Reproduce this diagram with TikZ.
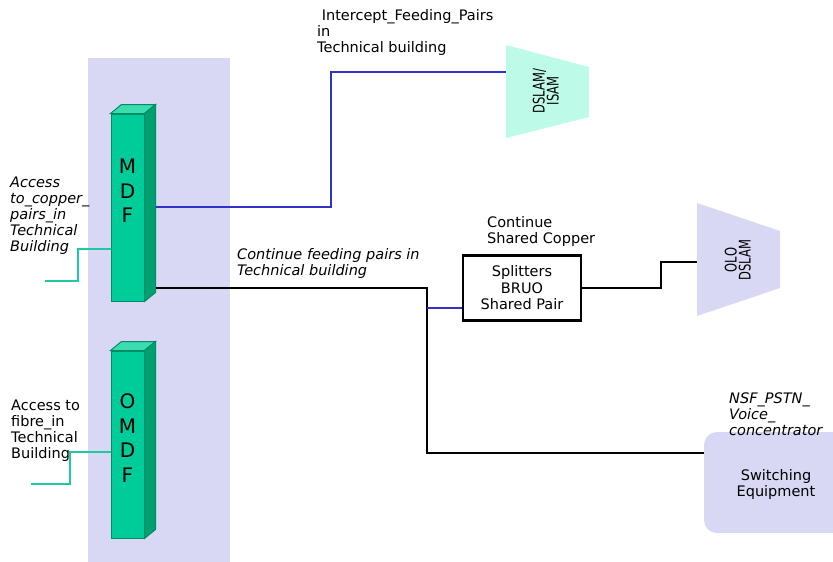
\documentclass[tikz,border=0pt]{standalone}
\usepackage{fontspec}
\setmainfont{DejaVu Sans}
\usetikzlibrary{calc}
\definecolor{lav}{RGB}{216,216,244}
\definecolor{mint}{RGB}{190,250,232}
\definecolor{mdffront}{RGB}{0,204,153}
\definecolor{mdftop}{RGB}{60,220,175}
\definecolor{mdfside}{RGB}{0,160,112}
\definecolor{mdfedge}{RGB}{0,140,100}
\definecolor{gline}{RGB}{30,200,160}
\definecolor{bline}{RGB}{50,50,200}
\tikzset{
  front/.style={draw=mdfedge, line width=1pt, fill=mdffront, minimum width=33pt, minimum height=187pt, inner sep=0pt},
  topface/.style={draw=mdfedge, line width=1pt, fill=mdftop},
  sideface/.style={draw=mdfedge, line width=1pt, fill=mdfside},
  letters/.style={align=center, font=\fontsize{20}{24.5}\selectfont, inner sep=0pt},
  lbl/.style={anchor=north west, align=left, inner sep=0pt, font=\fontsize{14.5}{16}\selectfont},
  ilbl/.style={lbl, font=\fontsize{14.5}{16}\selectfont\itshape},
  greenwire/.style={draw=gline, line width=2.4pt},
  bluewire/.style={draw=bline, line width=2.4pt},
  blackwire/.style={draw=black, line width=2.4pt},
  splitbox/.style={draw=black, line width=2.4pt, minimum width=118pt, minimum height=65pt, align=center, inner sep=0pt, font=\fontsize{14.5}{16.5}\selectfont},
  swbox/.style={fill=lav, rounded corners=13pt, minimum width=144pt, minimum height=101pt, inner sep=0pt},
  rottext/.style={rotate=90, inner sep=0pt},
}
\newcommand{\rotlines}[2]{\scalebox{0.72}[1]{\fontsize{16}{15}\selectfont\begin{tabular}{@{}c@{}}#1\\[-2.3pt]#2\end{tabular}}}
\begin{document}
\begin{tikzpicture}[x=1pt,y=-1pt]
\useasboundingbox (0,0) rectangle (833,562);
% band
\fill[lav] (88,58) rectangle (230,562);
% MDF
\node[front] (mdf) at (127.5,207.5) {};
\path[topface] (mdf.north west) -- ++(11,-9) -- ($(mdf.north east)+(11,-9)$) -- (mdf.north east) -- cycle;
\path[sideface] (mdf.north east) -- ++(11,-9) -- ($(mdf.south east)+(11,-9)$) -- (mdf.south east) -- cycle;
\node[letters] (mdft) at (127.5,191) {M\\D\\F};
% OMDF
\node[front] (omdf) at (127.5,444.5) {};
\path[topface] (omdf.north west) -- ++(11,-9) -- ($(omdf.north east)+(11,-9)$) -- (omdf.north east) -- cycle;
\path[sideface] (omdf.north east) -- ++(11,-9) -- ($(omdf.south east)+(11,-9)$) -- (omdf.south east) -- cycle;
\node[letters] (omdft) at (127.5,438) {O\\M\\D\\F};
% DSLAM/ISAM
\fill[mint] (506,45) -- (589,67) -- (589,117) -- (506,138) -- cycle;
\coordinate (dslamin) at (506,72);
\node[rottext] (dslamt) at (548,91) {\rotlines{DSLAM/}{ISAM}};
% OLO DSLAM
\fill[lav] (697,203) -- (780,231) -- (780,288) -- (697,316) -- cycle;
\coordinate (oloin) at (697,262);
\node[rottext] (olot) at (740,260) {\rotlines{OLO}{DSLAM}};
% Splitters
\node[splitbox] (split) at (522,288) {Splitters\\BRUO\\Shared Pair};
% Switching equipment
\node[swbox] (sw) at (776,482.5) {};
\node[align=center, inner sep=0pt, font=\fontsize{14.5}{16}\selectfont] (swt) at (776,484) {Switching\\Equipment};
% labels
\node[ilbl] (acc) at (10,176.5) {Access\\to\_copper\_\\pairs\_in\\Technical\\Building};
\node[lbl] (accf) at (11,400) {Access to\\fibre\_in\\Technical\\Building};
\node[lbl] (icp) at (317,9) {\ Intercept\_Feeding\_Pairs\\in\\Technical building};
\node[ilbl] (cfp) at (237,248.5) {Continue feeding pairs in\\Technical building};
\node[lbl] (csc) at (487,216.5) {Continue\\Shared Copper};
\node[ilbl] (nsf) at (729,392.5) {NSF\_PSTN\_\\Voice\_\\concentrator};
% wires
\coordinate (cuend) at (45,281);
\coordinate (fiend) at (31,484);
\draw[greenwire] (mdf.west |- 0,249) -- (78,249) -- (78,281) -- (cuend);
\draw[greenwire] (omdf.west |- 0,452) -- (70,452) -- (70,484) -- (fiend);
\draw[bluewire] ([xshift=11pt]mdf.east |- 0,207) -- (331,207) |- (dslamin);
\draw[blackwire] ([xshift=11pt]mdf.east |- 0,288) -- (427,288) -- (427,453) -- (sw.west |- 0,453);
\draw[bluewire] (427,308) -- (split.west |- 0,308);
\draw[blackwire] (split.east) -- (661,288) |- (oloin);
\end{tikzpicture}
\end{document}
